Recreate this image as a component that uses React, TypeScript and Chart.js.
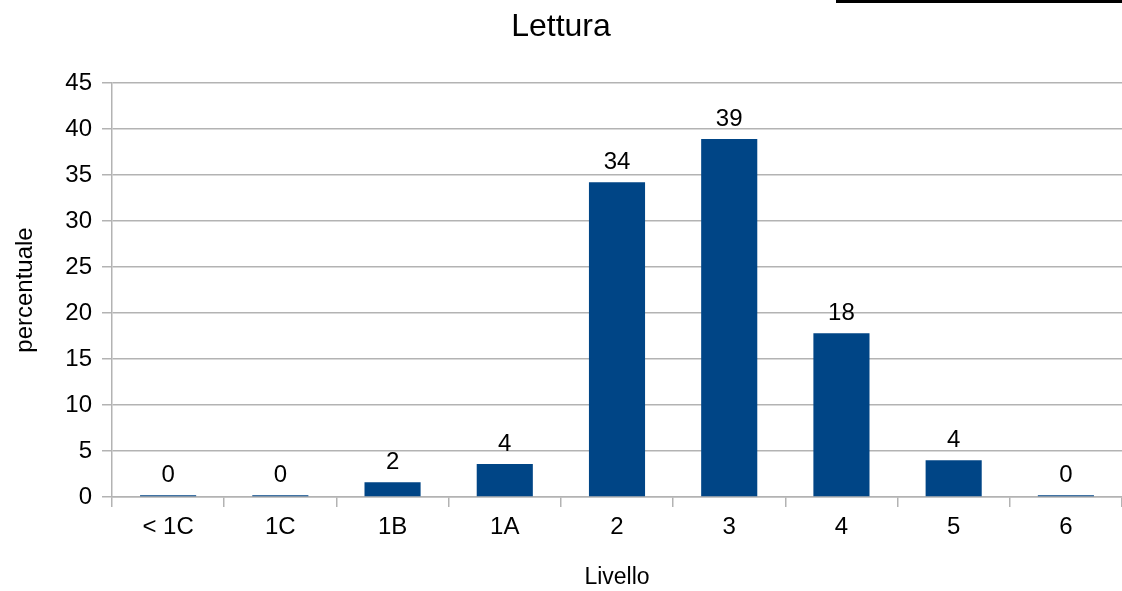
import React, { useEffect, useRef } from "react";
import { Chart, registerables } from "chart.js";

Chart.register(...registerables);

const categories = ["< 1C", "1C", "1B", "1A", "2", "3", "4", "5", "6"];
const values = [0.2, 0.2, 1.6, 3.6, 34.2, 38.9, 17.8, 4.0, 0.2];
const labelsShown = ["0", "0", "2", "4", "34", "39", "18", "4", "0"];
const yTicks = [0, 5, 10, 15, 20, 25, 30, 35, 40, 45];

const FONT = "'Liberation Sans', Arial, sans-serif";

export default function App() {
  const ref = useRef<HTMLCanvasElement | null>(null);
  useEffect(() => {
    document.body.style.margin = "0";
    const valueLabels = {
      id: "valueLabels",
      afterDatasetsDraw(chart: any) {
        const ctx = chart.ctx;
        const meta = chart.getDatasetMeta(0);
        ctx.save();
        ctx.fillStyle = "#000";
        ctx.font = `24px ${FONT}`;
        ctx.textAlign = "center";
        ctx.textBaseline = "alphabetic";
        meta.data.forEach((el: any, i: number) => {
          ctx.fillText(labelsShown[i], el.x, el.y - 13);
        });
        ctx.restore();
      },
    };
    const chart = new Chart(ref.current!, {
      type: "bar",
      data: {
        labels: categories,
        datasets: [
          {
            data: values,
            backgroundColor: "#004586",
            borderWidth: 0,
            barPercentage: 0.5,
            categoryPercentage: 1,
          },
        ],
      },
      options: {
        responsive: false,
        animation: false,
        layout: { padding: 0 },
        plugins: {
          legend: { display: false },
          tooltip: { enabled: false },
          title: {
            display: true,
            text: "Lettura",
            color: "#000",
            font: { family: FONT, size: 32, weight: "normal" },
            padding: { top: 8, bottom: 36.6 },
          },
        },
        scales: {
          x: {
            offset: true,
            grid: {
              display: true,
              offset: true,
              drawOnChartArea: false,
              drawTicks: true,
              tickLength: 10,
              color: "#b3b3b3",
              lineWidth: 1.5,
            },
            border: { display: true, color: "#b3b3b3", width: 1.5 },
            ticks: {
              color: "#000",
              font: { family: FONT, size: 24 },
              padding: 6,
              maxRotation: 0,
            },
            title: {
              display: true,
              text: "Livello",
              color: "#000",
              font: { family: FONT, size: 23 },
              padding: { top: 4, bottom: 0 },
            },
            afterFit(scale: any) {
              scale.height = 94;
            },
          },
          y: {
            min: 0,
            max: 45,
            afterBuildTicks(scale: any) {
              scale.ticks = yTicks.map((v) => ({ value: v }));
            },
            grid: {
              color: "#b3b3b3",
              lineWidth: 1.5,
              tickLength: 10,
              drawTicks: true,
            },
            border: { display: true, color: "#b3b3b3", width: 1.5 },
            ticks: {
              color: "#000",
              font: { family: FONT, size: 24 },
              padding: 10,
            },
            title: {
              display: true,
              text: "percentuale",
              color: "#000",
              font: { family: FONT, size: 24 },
              padding: { top: 10.6, bottom: 0 },
            },
            afterFit(scale: any) {
              scale.width = 112;
            },
          },
        },
      },
      plugins: [valueLabels],
    });
    return () => chart.destroy();
  }, []);
  return (
    <div style={{ position: "relative", width: 1122, height: 591, background: "#fff" }}>
      <canvas ref={ref} width={1122} height={591} style={{ display: "block" }} />
      <div
        style={{
          position: "absolute",
          left: 836,
          top: 0,
          width: 286,
          height: 3,
          background: "#000",
        }}
      />
    </div>
  );
}
